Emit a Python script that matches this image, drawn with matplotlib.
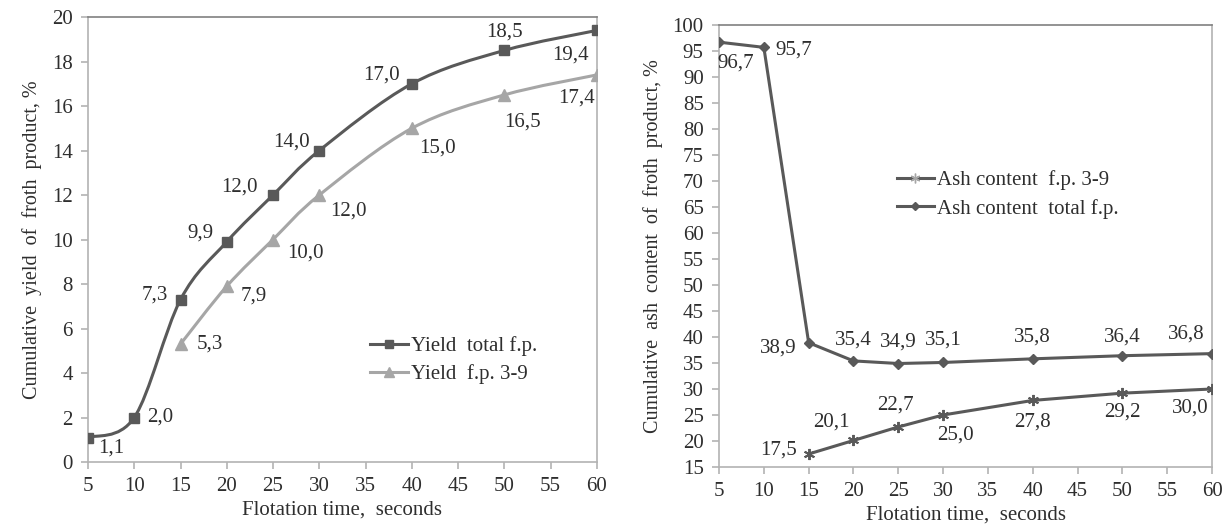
import numpy as np
import matplotlib.pyplot as plt
from matplotlib.path import Path
from matplotlib.patches import PathPatch
from matplotlib.lines import Line2D

plt.rcParams['font.family'] = ['Liberation Serif', 'DejaVu Serif']

# data
time_total = [5, 10, 15, 20, 25, 30, 40, 50, 60]
time_39 = [15, 20, 25, 30, 40, 50, 60]
yield_total = [1.1, 2.0, 7.3, 9.9, 12.0, 14.0, 17.0, 18.5, 19.4]
yield_39 = [5.3, 7.9, 10.0, 12.0, 15.0, 16.5, 17.4]
ash_total = [96.7, 95.7, 38.9, 35.4, 34.9, 35.1, 35.8, 36.4, 36.8]
ash_39 = [17.5, 20.1, 22.7, 25.0, 27.8, 29.2, 30.0]
x_ticks = list(range(5, 61, 5))

DARK = '#595959'
LIGHT = '#a6a6a6'
TEXT = '#2e2e2e'
FS = 15


def smooth_path(x, y):
    # Catmull-Rom curve as cubic Bezier pieces (like Excel's smoothed line)
    p = np.column_stack([x, y]).astype(float)
    ext = np.vstack([p[0], p, p[-1]])
    verts = [p[0]]
    codes = [Path.MOVETO]
    for i in range(len(p) - 1):
        p0, p1, p2, p3 = ext[i], ext[i + 1], ext[i + 2], ext[i + 3]
        verts += [p1 + (p2 - p0) / 6.0, p2 - (p3 - p1) / 6.0, p2]
        codes += [Path.CURVE4] * 3
    return Path(verts, codes)


def draw_series(ax, x, y, color, marker, ms, smooth=True, mew=1.0):
    if smooth:
        ax.add_patch(PathPatch(smooth_path(x, y), facecolor='none',
                               edgecolor=color, lw=2.2, zorder=2))
        ax.plot(x, y, ls='none', marker=marker, ms=ms, color=color,
                mec=color, mew=mew, zorder=3)
    else:
        ax.plot(x, y, lw=2.2, marker=marker, ms=ms, color=color,
                mec=color, mew=mew, zorder=3)


def label_points(ax, x, y, offsets):
    for xi, yi, (dx, dy) in zip(x, y, offsets):
        ax.annotate(f'{yi:.1f}'.replace('.', ','), (xi, yi),
                    xytext=(dx, dy), textcoords='offset points',
                    ha='center', va='center', fontsize=FS, color=TEXT)


def style_axes(ax):
    for s in ax.spines.values():
        s.set_color('#b3b3b3')
        s.set_linewidth(1.2)
    ax.spines['top'].set_color('#808080')
    ax.tick_params(direction='out', length=5, width=1.2, color='#b3b3b3',
                   labelsize=FS, labelcolor=TEXT)
    ax.tick_params(axis='y', pad=6)
    ax.tick_params(axis='x', pad=6)
    ax.set_xlim(5, 60)
    ax.set_xticks(x_ticks)
    ax.set_xlabel('Flotation time,  seconds', fontsize=FS, color=TEXT,
                  labelpad=3)


fig = plt.figure(figsize=(12.27, 5.24), dpi=100)

# left chart: yield
ax1 = fig.add_axes([0.0717, 0.1183, 0.4148, 0.8492])
style_axes(ax1)
ax1.set_ylim(0, 20)
ax1.set_yticks(range(0, 21, 2))
ax1.set_ylabel('Cumulative  yield  of  froth  product, %', fontsize=14.5,
               color=TEXT, labelpad=7)
draw_series(ax1, time_total, yield_total, DARK, 's', 6.5)
draw_series(ax1, time_39, yield_39, LIGHT, '^', 8)
label_points(ax1, time_total, yield_total,
             [(16.5, -7.5), (19, 0), (-18.5, 3.6), (-19, 6.3), (-24, 5.8),
              (-20, 6), (-21.6, 6.3), (0, 13.5), (-18.7, -17.8)])
label_points(ax1, time_39, yield_39,
             [(21, 0), (19.4, -7), (23, -9.7), (20.6, -11.5), (18.7, -14.3),
              (13.3, -19.4), (-14.4, -16.6)])
h1 = [Line2D([], [], color=DARK, lw=2.2, marker='s', ms=5.5),
      Line2D([], [], color=LIGHT, lw=2.2, marker='^', ms=7)]
ax1.legend(h1, ['Yield  total f.p.', 'Yield  f.p. 3-9'], loc='center left',
           bbox_to_anchor=(0.534, 0.229), frameon=False, fontsize=FS,
           handlelength=1.8, handletextpad=0.15, labelspacing=0.4,
           borderpad=0, labelcolor=TEXT)

# right chart: ash content
ax2 = fig.add_axes([0.586, 0.1088, 0.4018, 0.8435])
style_axes(ax2)
ax2.set_ylim(15, 100)
ax2.set_yticks(range(15, 101, 5))
ax2.set_ylabel('Cumulative  ash  content  of  froth  product, %',
               fontsize=14.5, color=TEXT, labelpad=7)
draw_series(ax2, time_39, ash_39, DARK, (6, 2, 0), 8, smooth=False, mew=1.4)
draw_series(ax2, time_total, ash_total, DARK, 'D', 5.5, smooth=False)
label_points(ax2, time_total, ash_total,
             [(11.9, -15), (21.7, -1.9), (-22, -3.8), (0, 15), (0, 15.5),
              (0, 16), (0, 15.6), (0, 13.5), (-18.4, 14)])
label_points(ax2, time_39, ash_39,
             [(-22, 2.9), (-15.8, 13.5), (-2, 15.8), (8.6, -14.4), (0, -15.3),
              (0, -13.3), (-15.8, -13.7)])
h2 = [Line2D([], [], color=DARK, lw=2.2, marker=(6, 2, 0), ms=7, mec=LIGHT),
      Line2D([], [], color=DARK, lw=2.2, marker='D', ms=4.5)]
ax2.legend(h2, ['Ash content  f.p. 3-9', 'Ash content  total f.p.'],
           loc='center left', bbox_to_anchor=(0.339, 0.6165), frameon=False,
           fontsize=FS, handlelength=1.8, handletextpad=0.15,
           labelspacing=0.4, borderpad=0, labelcolor=TEXT)

fig.savefig('out.png', dpi=100)
